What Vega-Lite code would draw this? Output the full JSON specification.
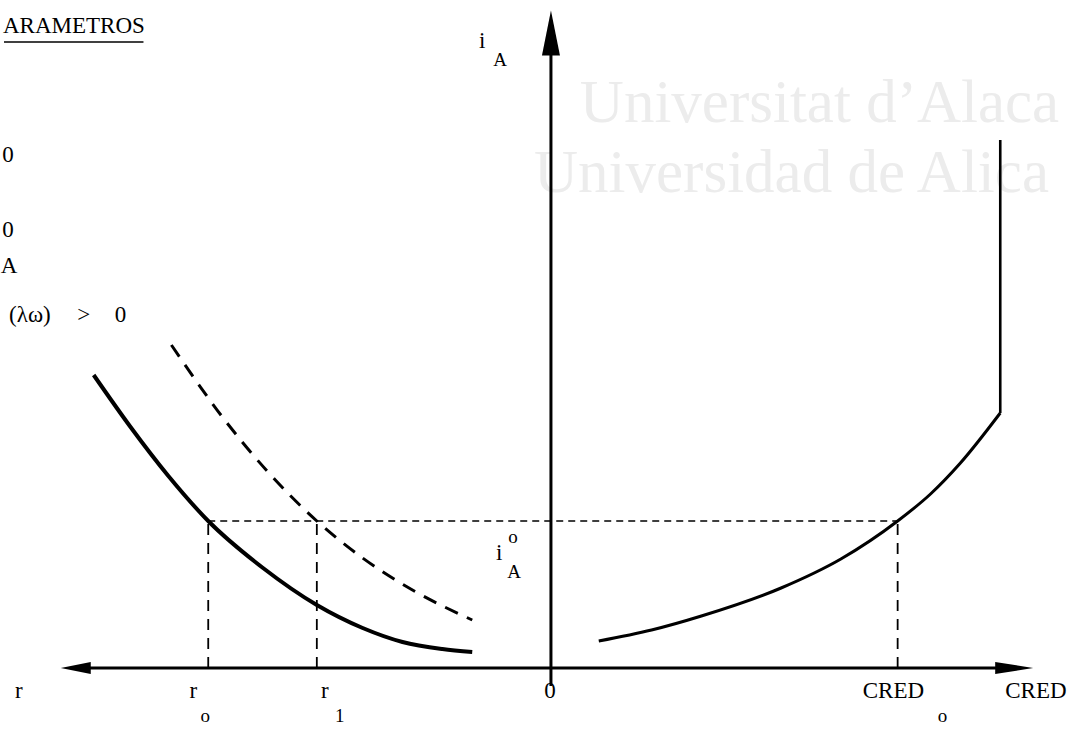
{
  "$schema": "https://vega.github.io/schema/vega-lite/v6.json",
  "width": 1069,
  "height": 737,
  "padding": 0,
  "autosize": {"type": "fit", "contains": "padding"},
  "background": "white",
  "config": {"view": {"stroke": null}},
  "datasets": {
    "segments": [
      {"kind": "axis", "x": -474, "x2": 451, "y": 0, "y2": 0},
      {"kind": "axis", "x": 0, "x2": 0, "y": -18, "y2": 628},
      {"kind": "guide", "x": -344, "x2": 348, "y": 147, "y2": 147},
      {"kind": "drop", "x": -344, "x2": -344, "y": 0, "y2": 147},
      {"kind": "drop", "x": -235, "x2": -235, "y": 0, "y2": 147},
      {"kind": "drop", "x": 348, "x2": 348, "y": 0, "y2": 147},
      {"kind": "supply", "x": 451, "x2": 451, "y": 255, "y2": 528},
      {"kind": "underline", "x": -549, "x2": -409, "y": 626, "y2": 626}
    ],
    "curves": [
      {"curve": "r0", "x": -459, "y": 293},
      {"curve": "r0", "x": -422, "y": 241},
      {"curve": "r0", "x": -384, "y": 192},
      {"curve": "r0", "x": -344, "y": 147},
      {"curve": "r0", "x": -289, "y": 100},
      {"curve": "r0", "x": -235, "y": 63},
      {"curve": "r0", "x": -189, "y": 40},
      {"curve": "r0", "x": -149, "y": 26},
      {"curve": "r0", "x": -109, "y": 19},
      {"curve": "r0", "x": -79, "y": 16},
      {"curve": "r1", "x": -381, "y": 323},
      {"curve": "r1", "x": -329, "y": 250},
      {"curve": "r1", "x": -284, "y": 196},
      {"curve": "r1", "x": -235, "y": 147},
      {"curve": "r1", "x": -189, "y": 110},
      {"curve": "r1", "x": -139, "y": 78},
      {"curve": "r1", "x": -79, "y": 48},
      {"curve": "cred", "x": 48, "y": 27},
      {"curve": "cred", "x": 101, "y": 38},
      {"curve": "cred", "x": 151, "y": 52},
      {"curve": "cred", "x": 231, "y": 80},
      {"curve": "cred", "x": 291, "y": 109},
      {"curve": "cred", "x": 348, "y": 147},
      {"curve": "cred", "x": 381, "y": 174},
      {"curve": "cred", "x": 411, "y": 205},
      {"curve": "cred", "x": 451, "y": 255}
    ],
    "arrows": [
      {"dir": "left", "x": -477, "y": 0},
      {"dir": "right", "x": 465, "y": 0},
      {"dir": "up", "x": 0, "y": 635}
    ],
    "labels": [
      {"role": "watermark", "text": "Universitat d’Alaca", "x": 29, "y": 546},
      {"role": "watermark", "text": "Universidad de Alica", "x": -17, "y": 476},
      {"role": "left", "text": "ARAMETROS", "x": -550, "y": 642},
      {"role": "center", "text": "0", "x": -545, "y": 513},
      {"role": "center", "text": "0", "x": -545, "y": 438},
      {"role": "center", "text": "A", "x": -544, "y": 402},
      {"role": "center", "text": "(λω)", "x": -523, "y": 353},
      {"role": "center", "text": ">", "x": -469, "y": 353},
      {"role": "center", "text": "0", "x": -432, "y": 353},
      {"role": "center", "text": "i", "x": -69, "y": 627},
      {"role": "index", "text": "A", "x": -51, "y": 608},
      {"role": "center", "text": "i", "x": -52, "y": 115},
      {"role": "index", "text": "o", "x": -38, "y": 131},
      {"role": "index", "text": "A", "x": -37, "y": 96},
      {"role": "center", "text": "r", "x": -534, "y": -23},
      {"role": "center", "text": "r", "x": -359, "y": -23},
      {"role": "index", "text": "o", "x": -347, "y": -48},
      {"role": "center", "text": "r", "x": -227, "y": -23},
      {"role": "index", "text": "1", "x": -212, "y": -48},
      {"role": "center", "text": "0", "x": -1, "y": -23},
      {"role": "left", "text": "CRED", "x": 313, "y": -23},
      {"role": "index", "text": "o", "x": 393, "y": -48},
      {"role": "left", "text": "CRED", "x": 456, "y": -23}
    ]
  },
  "encoding": {
    "x": {"field": "x", "type": "quantitative", "axis": null, "scale": {"domain": [-549, 520], "nice": false, "zero": false}},
    "y": {"field": "y", "type": "quantitative", "axis": null, "scale": {"domain": [-69, 668], "nice": false, "zero": false}}
  },
  "layer": [
    {
      "data": {"name": "labels"},
      "transform": [{"filter": "datum.role === 'watermark'"}],
      "mark": {"type": "text", "align": "left", "baseline": "alphabetic", "font": "Liberation Serif", "fontSize": 61, "color": "#ececec"},
      "encoding": {"text": {"field": "text"}}
    },
    {
      "data": {"name": "segments"},
      "transform": [{"filter": "datum.kind === 'axis'"}],
      "mark": {"type": "rule", "color": "black", "strokeWidth": 3},
      "encoding": {"x2": {"field": "x2"}, "y2": {"field": "y2"}}
    },
    {
      "data": {"name": "segments"},
      "transform": [{"filter": "datum.kind === 'guide'"}],
      "mark": {"type": "rule", "color": "black", "strokeWidth": 1.3, "strokeDash": [7, 5]},
      "encoding": {"x2": {"field": "x2"}, "y2": {"field": "y2"}}
    },
    {
      "data": {"name": "segments"},
      "transform": [{"filter": "datum.kind === 'drop'"}],
      "mark": {"type": "rule", "color": "black", "strokeWidth": 1.8, "strokeDash": [11, 8]},
      "encoding": {"x2": {"field": "x2"}, "y2": {"field": "y2"}}
    },
    {
      "data": {"name": "segments"},
      "transform": [{"filter": "datum.kind === 'supply'"}],
      "mark": {"type": "rule", "color": "black", "strokeWidth": 2.6},
      "encoding": {"x2": {"field": "x2"}, "y2": {"field": "y2"}}
    },
    {
      "data": {"name": "segments"},
      "transform": [{"filter": "datum.kind === 'underline'"}],
      "mark": {"type": "rule", "color": "black", "strokeWidth": 1.4},
      "encoding": {"x2": {"field": "x2"}, "y2": {"field": "y2"}}
    },
    {
      "data": {"name": "curves"},
      "transform": [{"filter": "datum.curve === 'r0'"}],
      "mark": {"type": "line", "color": "black", "strokeWidth": 4, "interpolate": "monotone"},
      "encoding": {}
    },
    {
      "data": {"name": "curves"},
      "transform": [{"filter": "datum.curve === 'r1'"}],
      "mark": {"type": "line", "color": "black", "strokeWidth": 3, "strokeDash": [14, 10], "interpolate": "monotone"},
      "encoding": {}
    },
    {
      "data": {"name": "curves"},
      "transform": [{"filter": "datum.curve === 'cred'"}],
      "mark": {"type": "line", "color": "black", "strokeWidth": 3, "interpolate": "monotone"},
      "encoding": {}
    },
    {
      "data": {"name": "arrows"},
      "transform": [{"filter": "datum.dir === 'left'"}],
      "mark": {"type": "point", "filled": true, "color": "black", "opacity": 1, "size": 900, "shape": "M-1,0L1,-0.4L1,0.4Z"}
    },
    {
      "data": {"name": "arrows"},
      "transform": [{"filter": "datum.dir === 'right'"}],
      "mark": {"type": "point", "filled": true, "color": "black", "opacity": 1, "size": 1444, "shape": "M1,0L-1,-0.32L-1,0.32Z"}
    },
    {
      "data": {"name": "arrows"},
      "transform": [{"filter": "datum.dir === 'up'"}],
      "mark": {"type": "point", "filled": true, "color": "black", "opacity": 1, "size": 2025, "shape": "M0,-1L-0.4,1L0.4,1Z"}
    },
    {
      "data": {"name": "labels"},
      "transform": [{"filter": "datum.role === 'center'"}],
      "mark": {"type": "text", "align": "center", "baseline": "middle", "font": "Liberation Serif", "fontSize": 23, "color": "black"},
      "encoding": {"text": {"field": "text"}}
    },
    {
      "data": {"name": "labels"},
      "transform": [{"filter": "datum.role === 'left'"}],
      "mark": {"type": "text", "align": "left", "baseline": "middle", "font": "Liberation Serif", "fontSize": 23, "color": "black"},
      "encoding": {"text": {"field": "text"}}
    },
    {
      "data": {"name": "labels"},
      "transform": [{"filter": "datum.role === 'index'"}],
      "mark": {"type": "text", "align": "center", "baseline": "middle", "font": "Liberation Serif", "fontSize": 19, "color": "black"},
      "encoding": {"text": {"field": "text"}}
    }
  ]
}
